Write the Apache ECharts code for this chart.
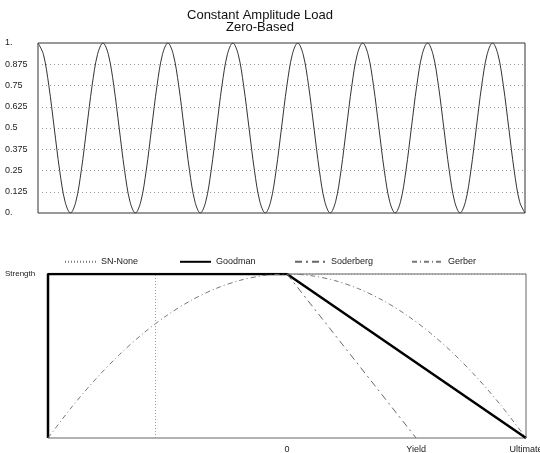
<!DOCTYPE html>
<html>
<head>
<meta charset="utf-8">
<script src="https://cdn.jsdelivr.net/npm/echarts@6/dist/echarts.min.js"></script>
<style>
  html, body { margin: 0; padding: 0; background: #fff; }
  #main { width: 540px; height: 453px; }
</style>
</head>
<body>
<div id="main"></div>
<script>
// top chart: zero-based load, 12 samples per cycle, 7.5 cycles
var samplesPerCycle = 12;
var load = [
  1, 0.933, 0.75, 0.5, 0.25, 0.067, 0, 0.067, 0.25, 0.5, 0.75, 0.933,
  1, 0.933, 0.75, 0.5, 0.25, 0.067, 0, 0.067, 0.25, 0.5, 0.75, 0.933,
  1, 0.933, 0.75, 0.5, 0.25, 0.067, 0, 0.067, 0.25, 0.5, 0.75, 0.933,
  1, 0.933, 0.75, 0.5, 0.25, 0.067, 0, 0.067, 0.25, 0.5, 0.75, 0.933,
  1, 0.933, 0.75, 0.5, 0.25, 0.067, 0, 0.067, 0.25, 0.5, 0.75, 0.933,
  1, 0.933, 0.75, 0.5, 0.25, 0.067, 0, 0.067, 0.25, 0.5, 0.75, 0.933,
  1, 0.933, 0.75, 0.5, 0.25, 0.067, 0, 0.067, 0.25, 0.5, 0.75, 0.933,
  1, 0.933, 0.75, 0.5, 0.25, 0.067, 0
];
var loadTicks = ['0.', '0.125', '0.25', '0.375', '0.5', '0.625', '0.75', '0.875', '1.'];

// bottom chart: mean stress (x, -Ultimate..Ultimate) vs alternating (y)
var negYieldLine = -0.552;
var snNone = [[-1, 1], [1, 1]];
var goodman = [[-1, 0], [-1, 1], [0, 1], [1, 0]];
var soderberg = [[0, 1], [0.54, 0]];
var gerberX = [-1, -0.9, -0.8, -0.7, -0.6, -0.5, -0.4, -0.3, -0.2, -0.1, 0, 0.1, 0.2, 0.3, 0.4, 0.5, 0.6, 0.7, 0.8, 0.9, 1];
var gerberY = [0, 0.19, 0.36, 0.51, 0.64, 0.75, 0.84, 0.91, 0.96, 0.99, 1, 0.99, 0.96, 0.91, 0.84, 0.75, 0.64, 0.51, 0.36, 0.19, 0];
var xTickVals = [0, 0.54, 1];
var xTickNames = ['0', 'Yield', 'Ultimate'];
var legendNames = ['SN-None', 'Goodman', 'Soderberg', 'Gerber'];

var chart = echarts.init(document.getElementById('main'));
var font = 'Liberation Sans, Arial, sans-serif';

var option = {
  animation: false,
  textStyle: { fontFamily: font },
  title: {
    text: 'Constant Amplitude Load\nZero-Based',
    left: 255, top: 4, textAlign: 'center',
    textStyle: { fontSize: 13, fontWeight: 'normal', color: '#111', lineHeight: 12.5, fontFamily: font }
  },
  legend: legendNames.map(function (n, i) {
    return {
      data: [n], left: [64, 179, 294, 411][i], top: 257,
      itemWidth: 31, itemHeight: 12, itemGap: 0,
      itemStyle: { color: 'transparent', borderWidth: 0 },
      textStyle: { fontSize: 9, color: '#222', fontFamily: font }, padding: 0
    };
  }),
  grid: [
    { left: 38, right: 15, top: 43, bottom: 240, show: true, borderColor: '#333', borderWidth: 1, outerBoundsMode: 'none' },
    { left: 48, right: 14, top: 274, bottom: 15, show: true, borderColor: '#666', borderWidth: 1, outerBoundsMode: 'none' }
  ],
  xAxis: [
    { gridIndex: 0, type: 'value', min: 0, max: 7.5, axisLine: { show: false }, axisTick: { show: false }, axisLabel: { show: false }, splitLine: { show: false } },
    {
      gridIndex: 1, type: 'value', min: -1, max: 1, axisLine: { show: false }, axisTick: { show: false }, splitLine: { show: false },
      axisLabel: {
        customValues: xTickVals, fontSize: 9, color: '#222', margin: 7, hideOverlap: false,
        formatter: function (v) { return xTickNames[xTickVals.indexOf(v)]; }
      }
    }
  ],
  yAxis: [
    {
      gridIndex: 0, type: 'value', min: 0, max: 1, interval: 0.125,
      axisLine: { show: false }, axisTick: { show: false },
      axisLabel: { align: 'left', margin: 33, fontSize: 9, color: '#222', formatter: function (v) { return loadTicks[Math.round(v / 0.125)]; } },
      splitLine: { show: true, lineStyle: { type: [1, 3], color: '#999', width: 1 } }
    },
    {
      gridIndex: 1, type: 'value', min: 0, max: 1,
      axisLine: { show: false }, axisTick: { show: false }, splitLine: { show: false },
      axisLabel: { customValues: [1], align: 'left', margin: 43, fontSize: 8, color: '#222', formatter: function () { return 'Strength'; } }
    }
  ],
  series: [
    {
      type: 'line', xAxisIndex: 0, yAxisIndex: 0, smooth: 0.35, symbol: 'none',
      lineStyle: { color: '#333', width: 1 },
      data: load.map(function (v, i) { return [i / samplesPerCycle, v]; })
    },
    {
      name: 'SN-None', type: 'line', xAxisIndex: 1, yAxisIndex: 1, symbol: 'none', color: '#777',
      lineStyle: { color: '#777', width: 1, type: [1, 2] },
      data: snNone,
      markLine: {
        silent: true, symbol: 'none', label: { show: false },
        lineStyle: { color: '#999', width: 1, type: [1, 2] },
        data: [{ xAxis: negYieldLine }]
      }
    },
    {
      name: 'Goodman', type: 'line', xAxisIndex: 1, yAxisIndex: 1, symbol: 'none', color: '#000',
      lineStyle: { color: '#000', width: 2.5 },
      data: goodman
    },
    {
      name: 'Soderberg', type: 'line', xAxisIndex: 1, yAxisIndex: 1, symbol: 'none', color: '#666',
      lineStyle: { color: '#666', width: 1, type: [7, 4, 2, 4] },
      data: soderberg
    },
    {
      name: 'Gerber', type: 'line', xAxisIndex: 1, yAxisIndex: 1, symbol: 'none', smooth: 0.3, color: '#777',
      lineStyle: { color: '#777', width: 1, type: [5, 3, 1, 3] },
      data: gerberX.map(function (x, i) { return [x, gerberY[i]]; })
    }
  ]
};

chart.setOption(option);
</script>
</body>
</html>
